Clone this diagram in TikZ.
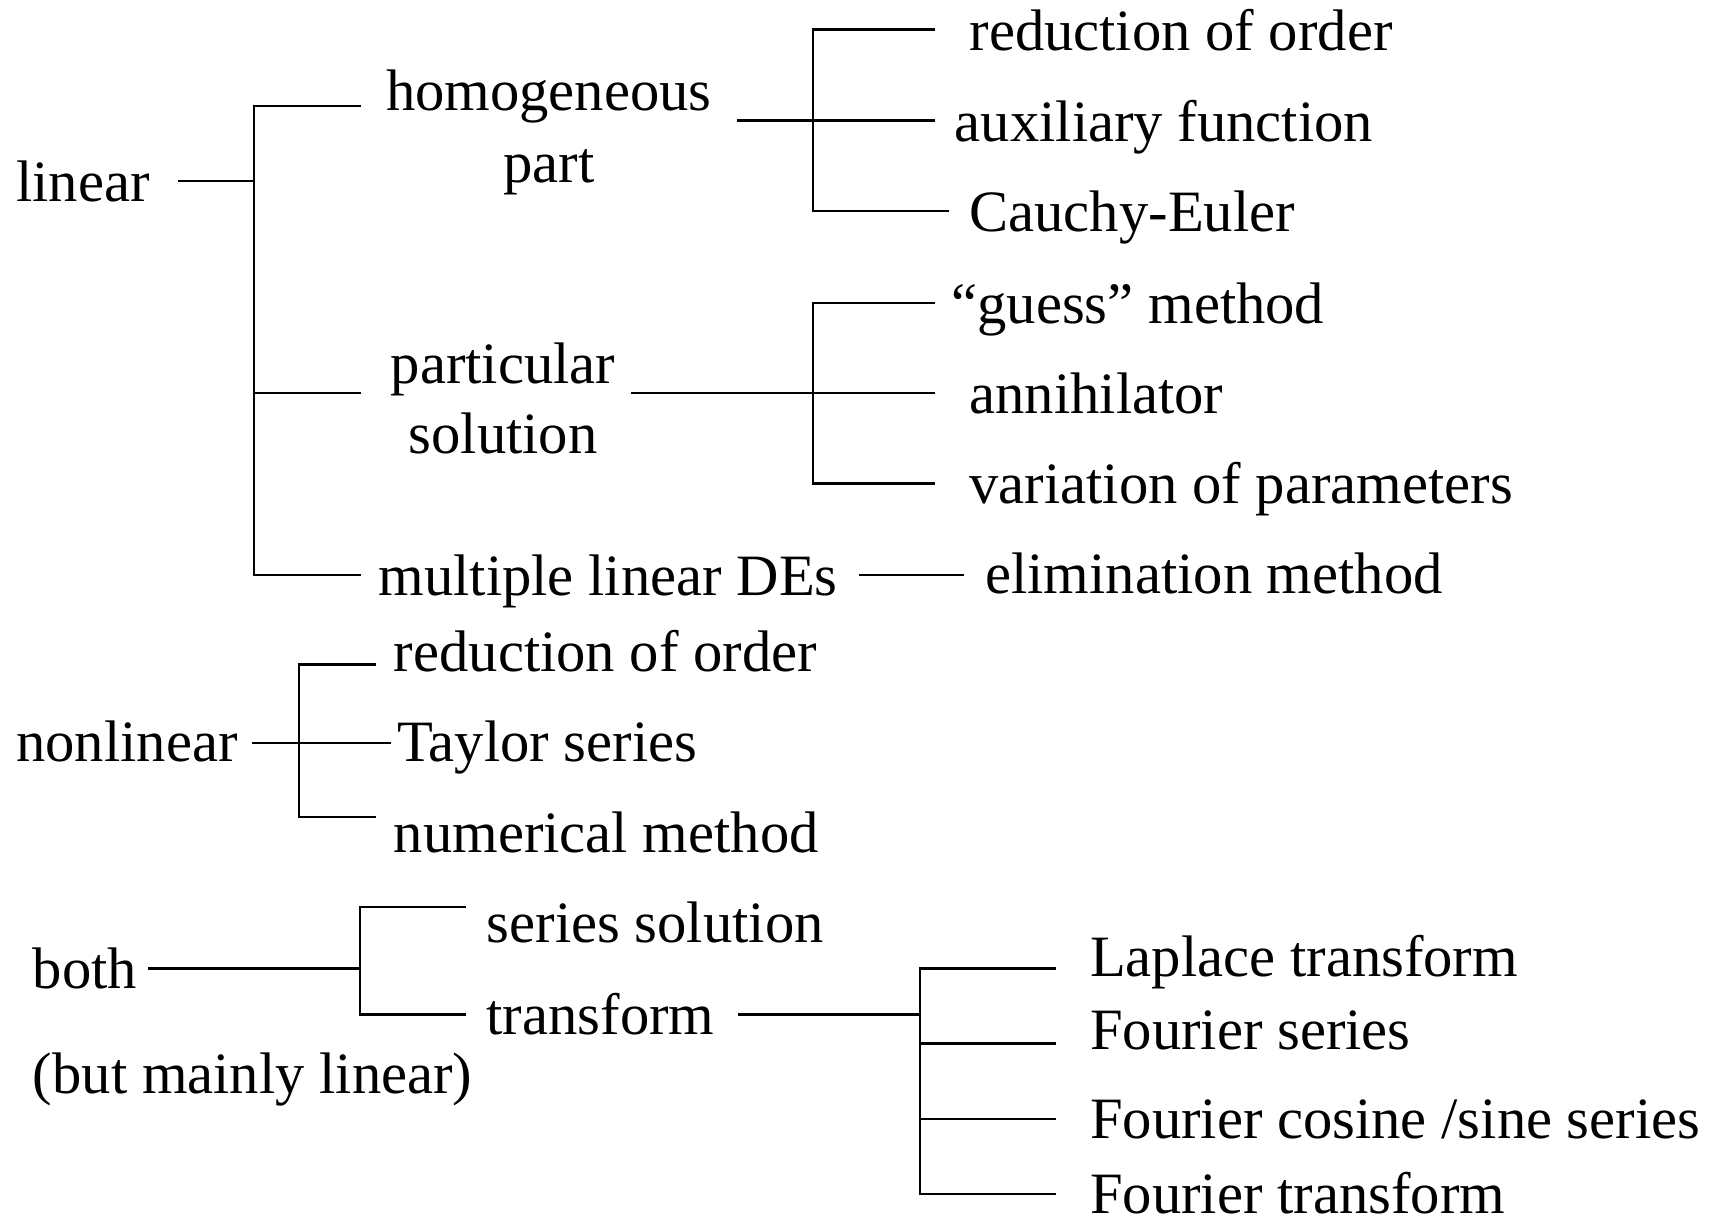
\documentclass[tikz,border=0pt]{standalone}
\usepackage{fontspec}
\setmainfont{Liberation Serif}
\begin{document}
\begin{tikzpicture}[x=1pt,y=-1pt,
  lbl/.style={inner sep=0pt,outer sep=0pt,font=\fontsize{53.7}{64}\selectfont},
  lw/.style={lbl,anchor=base west},
  lc/.style={lbl,anchor=base},
  conn/.style={line width=2.2pt,line cap=rect}]
\useasboundingbox[fill=white] (0,0) rectangle (1568,1117);
% text nodes
\node[lw] (lin) at (15,185) {linear};
\node[lc] (hom) at (503,101.5) {homogeneous};
\node[lc] (homb) at (503,166.8) {part};
\node[lc] (par) at (461,351) {particular};
\node[lc] (parb) at (461,416) {solution};
\node[lw] (mul) at (347,545.8) {multiple linear DEs};
\node[lw] (red) at (888.5,46.1) {reduction of order};
\node[lw] (aux) at (875,129.5) {auxiliary function};
\node[lw] (cau) at (888.5,212.2) {Cauchy-Euler};
\node[lw] (gue) at (872,296.6) {“guess” method};
\node[lw] (ann) at (888.5,379) {annihilator};
\node[lw] (var) at (888.5,461.7) {variation of parameters};
\node[lw] (eli) at (903,544) {elimination method};
\node[lw] (non) at (15,698.2) {nonlinear};
\node[lw] (redn) at (361,615) {reduction of order};
\node[lw] (tay) at (364,698.2) {Taylor series};
\node[lw] (num) at (361,781.4) {numerical method};
\node[lw] (bot) at (30.2,906.3) {both};
\node[lw] (but) at (30.2,1002) {(but mainly linear)};
\node[lw] (ser) at (446,864) {series solution};
\node[lw] (tra) at (446,948) {transform};
\node[lw] (lap) at (999,895) {Laplace transform};
\node[lw] (fs) at (999,962.2) {Fourier series};
\node[lw] (fcs) at (999,1043.2) {Fourier cosine /sine series};
\node[lw] (ft) at (999,1112) {Fourier transform};
% junction coordinates
\coordinate (a0) at (164,166);
\coordinate (a1) at (232.7,166);
\coordinate (aT) at (232.7,97.2);
\coordinate (aB) at (232.7,527);
\coordinate (aM) at (232.7,360);
\coordinate (e1) at (329.3,97.2);
\coordinate (e2) at (329.3,360);
\coordinate (e3) at (329.3,527);
% homogeneous
\coordinate (h0) at (676.6,110.6);
\coordinate (h1) at (855.4,110.6);
\coordinate (hT) at (745,27.2);
\coordinate (hB) at (745,193.3);
\coordinate (hTe) at (855.4,27.2);
\coordinate (hBe) at (868.8,193.3);
% particular
\coordinate (p0) at (579,360);
\coordinate (p1) at (855.4,360);
\coordinate (pT) at (745,277.4);
\coordinate (pB) at (745,443.2);
\coordinate (pTe) at (855.4,277.4);
\coordinate (pBe) at (855.4,443.2);
% DEs
\coordinate (m0) at (788,527);
\coordinate (m1) at (882.5,527);
% nonlinear
\coordinate (n0) at (232.3,680.8);
\coordinate (n1) at (357,680.8);
\coordinate (nT) at (274,608.8);
\coordinate (nB) at (274,748.8);
\coordinate (nTe) at (343.4,608.8);
\coordinate (nBe) at (343.4,748.8);
% both
\coordinate (b0) at (136.7,887.4);
\coordinate (b1) at (329.8,887.4);
\coordinate (bT) at (329.8,831.3);
\coordinate (bB) at (329.8,929.7);
\coordinate (bTe) at (426.3,831.3);
\coordinate (bBe) at (426.3,929.7);
% transform
\coordinate (t0) at (677.7,929.7);
\coordinate (t1) at (843,929.7);
\coordinate (tT) at (843,887.4);
\coordinate (tB) at (843,1094.2);
\coordinate (t2) at (843,956.1);
\coordinate (t3) at (843,1025.5);
\coordinate (tTe) at (966.7,887.4);
\coordinate (t2e) at (966.7,956.1);
\coordinate (t3e) at (966.7,1025.5);
\coordinate (tBe) at (966.7,1094.2);
% connectors
\draw[conn] (a0) -- (a1);
\draw[conn] (e1) -- (aT) -- (aB) -- (e3);
\draw[conn] (aM) -- (e2);
\draw[conn] (h0) -- (h1);
\draw[conn] (hTe) -- (hT) -- (hB) -- (hBe);
\draw[conn] (p0) -- (p1);
\draw[conn] (pTe) -- (pT) -- (pB) -- (pBe);
\draw[conn] (m0) -- (m1);
\draw[conn] (n0) -- (n1);
\draw[conn] (nTe) -- (nT) -- (nB) -- (nBe);
\draw[conn] (b0) -- (b1);
\draw[conn] (bTe) -- (bT) -- (bB) -- (bBe);
\draw[conn] (t0) -- (t1);
\draw[conn] (tTe) -- (tT) -- (tB) -- (tBe);
\draw[conn] (t2) -- (t2e);
\draw[conn] (t3) -- (t3e);
\end{tikzpicture}
\end{document}
